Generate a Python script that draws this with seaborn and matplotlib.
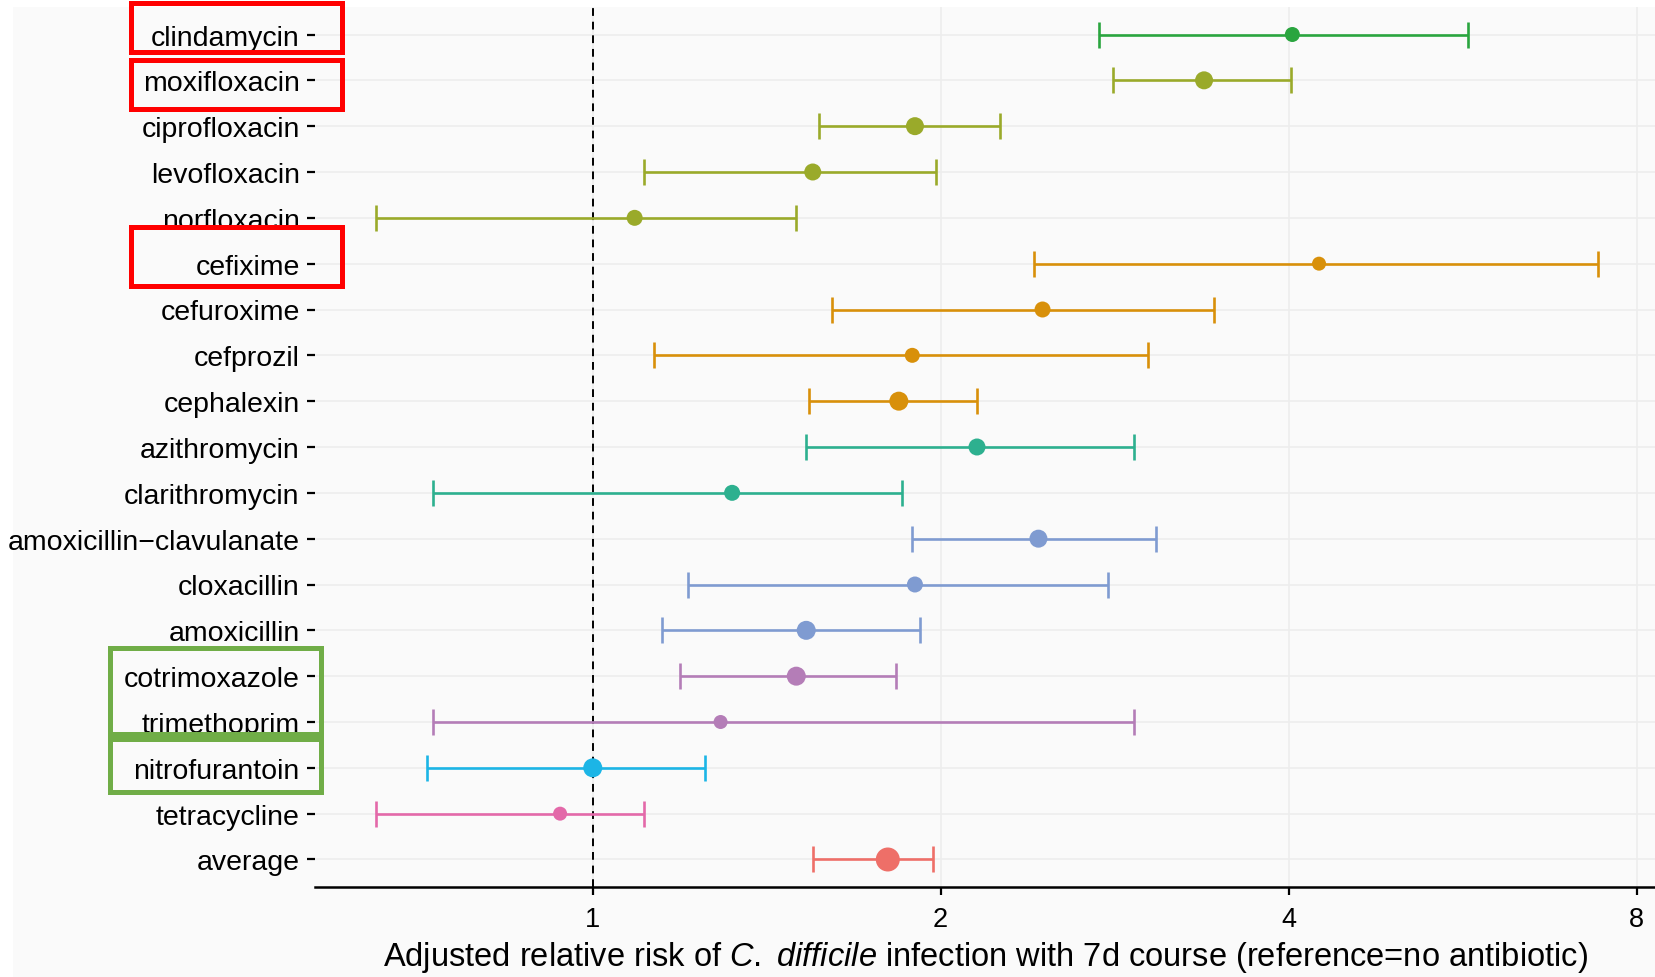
import pandas as pd
import matplotlib.pyplot as plt
import matplotlib.transforms as mtransforms
from matplotlib.patches import Rectangle
from matplotlib.ticker import FixedLocator, FixedFormatter, NullLocator
import seaborn as sns

# Dados (risco relativo ajustado, IC 95%)
drugs = ["clindamycin", "moxifloxacin", "ciprofloxacin", "levofloxacin", "norfloxacin",
         "cefixime", "cefuroxime", "cefprozil", "cephalexin", "azithromycin",
         "clarithromycin", "amoxicillin\u2212clavulanate", "cloxacillin", "amoxicillin",
         "cotrimoxazole", "trimethoprim", "nitrofurantoin", "tetracycline", "average"]
drug_class = ["lincosamide", "fluoroquinolone", "fluoroquinolone", "fluoroquinolone", "fluoroquinolone",
              "cephalosporin", "cephalosporin", "cephalosporin", "cephalosporin", "macrolide",
              "macrolide", "penicillin", "penicillin", "penicillin",
              "sulfonamide", "sulfonamide", "nitrofuran", "tetracycline", "average"]
rr = [4.03, 3.38, 1.90, 1.55, 1.087, 4.25, 2.45, 1.89, 1.84, 2.15,
      1.32, 2.43, 1.90, 1.53, 1.50, 1.29, 1.00, 0.937, 1.80]
ci_low = [2.74, 2.82, 1.57, 1.108, 0.649, 2.41, 1.61, 1.129, 1.54, 1.53,
          0.728, 1.89, 1.21, 1.148, 1.19, 0.728, 0.719, 0.649, 1.55]
ci_high = [5.72, 4.02, 2.25, 1.98, 1.50, 7.41, 3.45, 3.02, 2.15, 2.94,
           1.85, 3.07, 2.79, 1.92, 1.83, 2.94, 1.25, 1.108, 1.97]
# diametro aproximado dos pontos (peso)
weight = [15, 18, 18, 17, 16, 14, 16, 15, 19, 17, 16, 18, 16, 19, 19, 14, 19, 14, 24]

class_colors = {
    "lincosamide": "#2AA53F",
    "fluoroquinolone": "#9AAA2A",
    "cephalosporin": "#D8900A",
    "macrolide": "#2DB08F",
    "penicillin": "#7F9BD1",
    "sulfonamide": "#B47DB7",
    "nitrofuran": "#1CB5E6",
    "tetracycline": "#E369A9",
    "average": "#EE6F68",
}

# caixas de destaque desenhadas sobre os rotulos
highlights = [
    (["clindamycin"], "#FF0000", 0.68, 0.39),
    (["moxifloxacin"], "#FF0000", 0.45, 0.62),
    (["cefixime"], "#FF0000", 0.79, 0.48),
    (["cotrimoxazole", "trimethoprim"], "#70AD47", 0.62, 0.37),
    (["nitrofurantoin"], "#70AD47", 0.74, 0.53),
]

df = pd.DataFrame({"drug": drugs, "cls": drug_class, "rr": rr,
                   "low": ci_low, "high": ci_high, "w": weight})
df["pos"] = range(len(df))

sns.set_style("white")
plt.rcParams["font.family"] = ["Liberation Sans", "DejaVu Sans"]
plt.rcParams["mathtext.fontset"] = "custom"
plt.rcParams["mathtext.it"] = "Liberation Sans:italic"
plt.rcParams["mathtext.rm"] = "Liberation Sans"
plt.rcParams["text.color"] = "black"
plt.rcParams["xtick.color"] = "black"
plt.rcParams["ytick.color"] = "black"
plt.rcParams["axes.labelcolor"] = "black"

fig = plt.figure(figsize=(16.55, 9.78), dpi=100, facecolor="white")
fig.add_artist(Rectangle((13 / 1655, 0), 1, 1 - 8 / 978, transform=fig.transFigure,
                         facecolor="#FAFAFA", edgecolor="none", zorder=-5))
ax = fig.add_axes([315 / 1655, 1 - 888 / 978, 1 - 315 / 1655, (888 - 8) / 978])
ax.set_facecolor("#FAFAFA")

# intervalos de confianca
for _, r in df.iterrows():
    ax.errorbar(r["rr"], r["pos"], xerr=[[r["rr"] - r["low"]], [r["high"] - r["rr"]]],
                fmt="none", ecolor=class_colors[r["cls"]], elinewidth=1.9,
                capsize=9.5, capthick=1.9, zorder=2)

sns.scatterplot(data=df, x="rr", y="pos", hue="cls", palette=class_colors,
                s=(df["w"] / 1.389) ** 2, edgecolor="none", legend=False, ax=ax, zorder=3)

ax.axvline(1, color="black", linestyle=(0, (4, 3)), linewidth=1.4, zorder=1)

ax.set_xscale("log", base=2)
ax.set_xlim(0.575, 8.3)
ax.xaxis.set_major_locator(FixedLocator([1, 2, 4, 8]))
ax.xaxis.set_major_formatter(FixedFormatter(["1", "2", "4", "8"]))
ax.xaxis.set_minor_locator(NullLocator())
ax.set_yticks(df["pos"])
ax.set_yticklabels(df["drug"])
ax.set_ylim(len(df) - 1 + 0.6, -0.6)

ax.grid(True, color="#EDEDED", linewidth=1.2, zorder=0)
ax.set_axisbelow(True)
for s in ["top", "right", "left"]:
    ax.spines[s].set_visible(False)
ax.spines["bottom"].set_color("black")
ax.spines["bottom"].set_linewidth(1.8)
ax.tick_params(axis="y", left=True, length=6, width=1.6, pad=5, labelsize=20.5)
ax.tick_params(axis="x", bottom=True, length=6, width=1.6, pad=8, labelsize=19.5)

ax.set_ylabel("")
ax.set_xlabel("Adjusted relative risk of $\\mathit{C.}$ $\\mathit{difficile}$ infection with 7d course "
              "(reference=no antibiotic)", fontsize=23.5, labelpad=5)

# caixas de destaque: x em pixels da figura, y em unidades das categorias
trans = mtransforms.blended_transform_factory(fig.transFigure, ax.transData)
box_x = {"#FF0000": (131 / 1655, 211 / 1655), "#70AD47": (110 / 1655, 211 / 1655)}
for labels, col, pad_top, pad_bot in highlights:
    i0 = drugs.index(labels[0])
    i1 = drugs.index(labels[-1])
    x0, w = box_x[col]
    rect = Rectangle((x0, i0 - pad_top), w, (i1 + pad_bot) - (i0 - pad_top),
                     transform=trans, fill=False, edgecolor=col, linewidth=3.6,
                     clip_on=False, zorder=10)
    fig.add_artist(rect)

fig.savefig("out.png", dpi=100)
